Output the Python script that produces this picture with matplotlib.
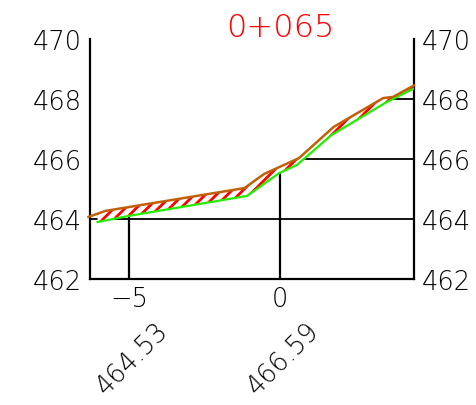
import matplotlib.pyplot as plt
import numpy as np

# cross-section 0+065
title = "0+065"

# existing ground (upper, brown)
ground_x = [-6.35, -5.79, -1.18, -0.53, 0.63, 1.78, 3.42, 3.75, 4.44]
ground_y = [464.07, 464.27, 465.03, 465.50, 466.03, 467.07, 468.03, 468.07, 468.45]

# design line (lower, green)
design_x = [-6.05, -5.03, -1.09, -0.03, 0.56, 1.71, 3.49, 4.44]
design_y = [463.90, 464.10, 464.77, 465.53, 465.80, 466.80, 467.87, 468.35]

# stations with elevation labels
stations = [-5, 0]
station_labels = ["464.53", "466.59"]

# level lines and where they start
levels = [464, 466, 468]
level_start = [-6.3, 0.7, 3.5]

plt.rcParams['font.family'] = ['DejaVu Sans']
plt.rcParams['font.weight'] = 'light'

fig = plt.figure(figsize=(4.77, 4.06), dpi=100)
ax = fig.add_axes([0.1887, 0.3103, 0.679, 0.5912])

# hatched band between the two profiles
xs = np.linspace(design_x[0], 4.44, 400)
gy = np.interp(xs, ground_x, ground_y)
dy = np.interp(xs, design_x, design_y)
plt.rcParams['hatch.linewidth'] = 2.0
plt.rcParams['hatch.color'] = 'red'
ax.fill_between(xs, dy, gy, facecolor='white',
                edgecolor='red', hatch='///', linewidth=0, zorder=2)

# level lines
for lv, x0 in zip(levels, level_start):
    ax.plot([x0, 4.44], [lv, lv], color='black', lw=1.3, zorder=1)

# station verticals up to ground
for s in stations:
    top = (np.interp(s, ground_x, ground_y) + np.interp(s, design_x, design_y)) / 2
    ax.plot([s, s], [462, top], color='black', lw=1.6, zorder=1)

ax.plot(design_x, design_y, color='#22ee00', lw=1.6, zorder=3)
ax.plot(ground_x, ground_y, color='#c0600a', lw=1.8, zorder=4, clip_on=False)

ax.set_xlim(-6.3, 4.44)
ax.set_ylim(462, 470)
ax.set_yticks([462, 464, 466, 468, 470])
ax.set_xticks(stations)
ax.set_xticklabels(['\u22125', '0'])
ax.tick_params(length=0, labelsize=18.5, pad=5, labelright=True)
ax.tick_params(axis='y', pad=6)
ax.spines['top'].set_visible(False)
for sp in ['left', 'right', 'bottom']:
    ax.spines[sp].set_linewidth(1.6)

for s, lab in zip(stations, station_labels):
    ax.text(s + 0.1, -0.33, lab, transform=ax.get_xaxis_transform(), rotation=45,
            ha='center', va='center', fontsize=18.5)

# title sits over the centre line (station 0)
ax.text(0, 1.05, title, transform=ax.get_xaxis_transform(), color='red',
        fontsize=23, ha='center', va='center')

fig.savefig('out.png', dpi=100)
